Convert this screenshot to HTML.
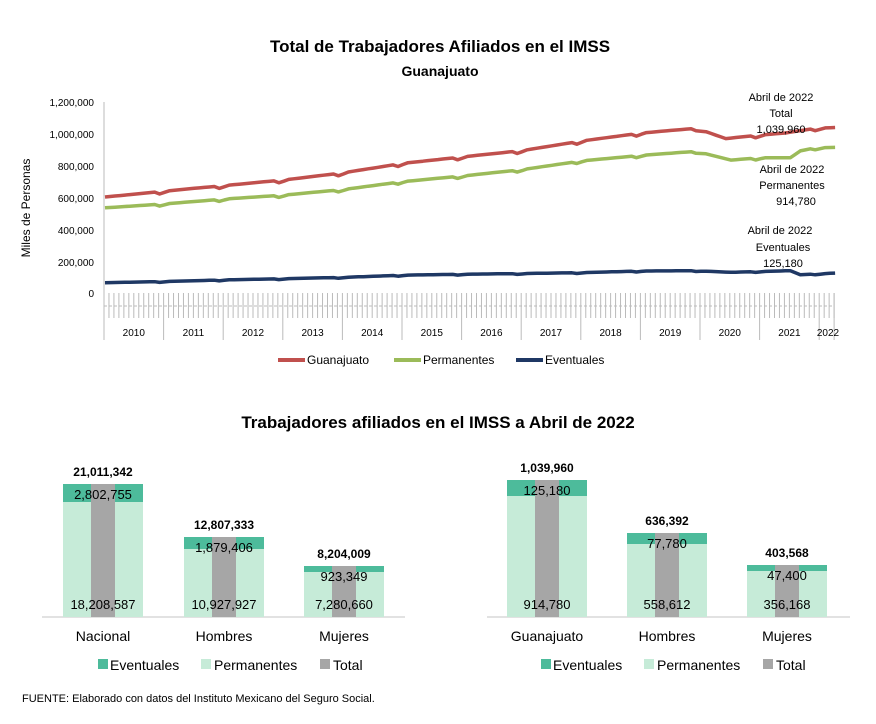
<!DOCTYPE html>
<html><head><meta charset="utf-8"><style>
body{margin:0;background:#fff;width:876px;height:719px;overflow:hidden;font-family:"Liberation Sans",Calibri,sans-serif}
svg text{font-family:"Liberation Sans",sans-serif}
</style></head><body>
<svg id="s" width="876" height="719" xmlns="http://www.w3.org/2000/svg">
<text x="440" y="52" text-anchor="middle" font-size="17" font-weight="bold">Total de Trabajadores Afiliados en el IMSS</text>
<text x="440" y="76" text-anchor="middle" font-size="14" font-weight="bold">Guanajuato</text>
<g font-size="10" text-anchor="end">
<text x="94" y="106">1,200,000</text><text x="94" y="138">1,000,000</text><text x="94" y="170">800,000</text>
<text x="94" y="202">600,000</text><text x="94" y="234">400,000</text><text x="94" y="266">200,000</text><text x="94" y="297">0</text>
</g>
<text transform="translate(30,208) rotate(-90)" text-anchor="middle" font-size="12">Miles de Personas</text>
<line x1="104" y1="102" x2="104" y2="340" stroke="#bbb"/>
<g id="ticks"></g>
<g id="lines"></g>
<g font-size="11" text-anchor="middle">
<text x="781" y="101">Abril de 2022</text><text x="781" y="117">Total</text><text x="781" y="133">1,039,960</text>
<text x="792" y="173">Abril de 2022</text><text x="792" y="189">Permanentes</text><text x="796" y="205">914,780</text>
<text x="780" y="234">Abril de 2022</text><text x="783" y="251">Eventuales</text><text x="783" y="267">125,180</text>
</g>
<g font-size="12">
<line x1="278" y1="360" x2="305" y2="360" stroke="#c0504d" stroke-width="4"/><text x="307" y="364">Guanajuato</text>
<line x1="394" y1="360" x2="421" y2="360" stroke="#9bbb59" stroke-width="4"/><text x="423" y="364">Permanentes</text>
<line x1="516" y1="360" x2="543" y2="360" stroke="#1f3864" stroke-width="4"/><text x="545" y="364">Eventuales</text>
</g>
<text x="438" y="428" text-anchor="middle" font-size="17" font-weight="bold">Trabajadores afiliados en el IMSS a Abril de 2022</text>
<g id="bars"></g>
<text x="22" y="702" font-size="11">FUENTE: Elaborado con datos del Instituto Mexicano del Seguro Social.</text>
</svg>
<script>
var s=document.getElementById('s'),NS='http://www.w3.org/2000/svg';
function el(p,t,a,txt){var e=document.createElementNS(NS,t);for(var k in a)e.setAttribute(k,a[k]);if(txt!=null)e.textContent=txt;document.getElementById(p).appendChild(e);return e;}
var x0=104,dm=59.6/12;
var t='';
for(var m=0;m<=147;m++){var x=x0+m*dm;t+='M'+x+' 293V'+(m%12==0?340:318)+' ';}
el('ticks','path',{d:t,stroke:'#bbb','stroke-width':1,fill:'none'});
el('ticks','line',{x1:x0+147*dm,y1:293,x2:x0+147*dm,y2:340,stroke:'#bbb'});
el('ticks','line',{x1:x0,y1:306,x2:x0+147*dm,y2:306,stroke:'#bbb','stroke-dasharray':'3,2'});
for(var y=0;y<12;y++){el('ticks','text',{x:x0+29.8+59.6*y,y:336,'font-size':10,'text-anchor':'middle'},String(2010+y));}
el('ticks','text',{x:828,y:336,'font-size':10,'text-anchor':'middle'},'2022');
function Y(v){return 293-v/1200000*191;}
// [month, value(k)]
var G=[[0,603],[12,640],[24,675],[36,710],[48,755],[60,815],[72,855],[84,895],[96,955],[108,1005],[119,1035],[125,970],[131,990],[137,1005],[143,1035],[147,1040]];
var P=[[0,535],[12,560],[24,590],[36,615],[48,650],[60,700],[72,735],[84,775],[96,830],[108,865],[119,890],[126,835],[132,850],[138,850],[140,893],[143,912],[147,915]];
var E=[[0,65],[12,72],[24,82],[36,90],[48,98],[60,112],[72,118],[84,122],[96,128],[108,138],[119,140],[126,130],[138,140],[140,115],[147,125]];
function val(k,m){for(var i=0;i<k.length-1;i++){if(m>=k[i][0]&&m<=k[i+1][0])return k[i][1]+(k[i+1][1]-k[i][1])*(m-k[i][0])/(k[i+1][0]-k[i][0]);}return k[k.length-1][1];}
function ser(k,col,seas){var d='';for(var m=0;m<=147;m++){var v=val(k,m);
if(m%12==11)v-=seas;if(m%12==0&&m>0)v-=seas*0.5;
d+=(m?'L':'M')+(x0+m*dm+1).toFixed(1)+' '+Y(v*1000).toFixed(1);}
el('lines','path',{d:d,stroke:col,'stroke-width':3.5,fill:'none','stroke-linejoin':'round'});}
ser(G,'#c0504d',15);ser(P,'#9bbb59',12);ser(E,'#1f3864',5);
function bars(base,x1,x2,items,legx){
el('bars','line',{x1:x1,y1:base,x2:x2,y2:base,stroke:'#d9d9d9','stroke-width':1.5});
items.forEach(function(b){var w=80,x=b[0];
el('bars','rect',{x:x,y:b[1],width:w,height:base-b[1],fill:'#c6ebd8'});
el('bars','rect',{x:x,y:b[1],width:w,height:b[2]-b[1],fill:'#4dbb9b'});
el('bars','rect',{x:x+28,y:b[1],width:24,height:base-b[1],fill:'#a6a6a6'});
el('bars','text',{x:x+40,y:b[1]-8,'font-size':12,'font-weight':'bold','text-anchor':'middle'},b[3]);
el('bars','text',{x:x+40,y:b[1]+15,'font-size':13,'text-anchor':'middle'},b[4]);
el('bars','text',{x:x+40,y:609,'font-size':13,'text-anchor':'middle'},b[5]);
el('bars','text',{x:x+40,y:641,'font-size':14,'text-anchor':'middle'},b[6]);});
var l=legx;
el('bars','rect',{x:l,y:659,width:10,height:10,fill:'#4dbb9b'});el('bars','text',{x:l+12,y:670,'font-size':14},'Eventuales');
el('bars','rect',{x:l+103,y:659,width:10,height:10,fill:'#c6ebd8'});el('bars','text',{x:l+116,y:670,'font-size':14},'Permanentes');
el('bars','rect',{x:l+222,y:659,width:10,height:10,fill:'#a6a6a6'});el('bars','text',{x:l+235,y:670,'font-size':14},'Total');}
bars(617,42,405,[[63,484,502,'21,011,342','2,802,755','18,208,587','Nacional'],[184,537,549,'12,807,333','1,879,406','10,927,927','Hombres'],[304,566,572,'8,204,009','923,349','7,280,660','Mujeres']],98);
bars(617,487,850,[[507,480,496,'1,039,960','125,180','914,780','Guanajuato'],[627,533,544,'636,392','77,780','558,612','Hombres'],[747,565,571,'403,568','47,400','356,168','Mujeres']],541);
</script>
</body></html>
